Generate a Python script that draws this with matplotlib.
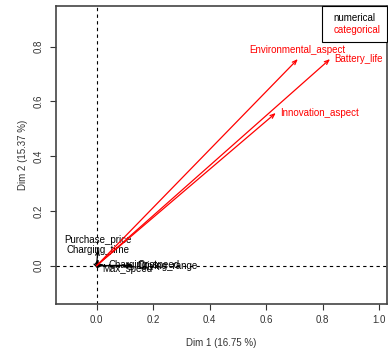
import matplotlib
matplotlib.use("Agg")
import matplotlib.pyplot as plt

# variable coordinates (Dim 1, Dim 2)
variables = ["Purchase_price", "Charging_time", "Max_speed", "Charging_speed",
             "Cost", "Driving_range",
             "Environmental_aspect", "Battery_life", "Innovation_aspect"]
dim1 = [0.005, 0.006, 0.005, 0.026, 0.13, 0.13, 0.712, 0.826, 0.634]
dim2 = [0.06, 0.025, -0.012, 0.004, 0.002, 0.0, 0.755, 0.755, 0.558]
groups = ["numerical"] * 6 + ["categorical"] * 3
# text position around the tip, like R's pos (1 below, 3 above, 4 right)
label_pos = [3, 3, 4, 4, 4, 4, 3, 4, 4]

group_colors = {"numerical": "black", "categorical": "red"}

plt.rcParams["font.family"] = ["Liberation Sans", "DejaVu Sans"]
plt.rcParams["font.size"] = 7

fig = plt.figure(figsize=(3.88, 3.56), dpi=100)
ax = fig.add_axes([0.144, 0.146, 0.853, 0.838])

ax.set_xlim(-0.144, 1.027)
ax.set_ylim(-0.14, 0.95)

ax.axhline(0, color="black", lw=0.8, ls=(0, (3, 3)))
ax.axvline(0, color="black", lw=0.8, ls=(0, (3, 3)))

for name, x, y, g, p in zip(variables, dim1, dim2, groups, label_pos):
    col = group_colors[g]
    ax.annotate("", xy=(x, y), xytext=(0, 0),
                arrowprops=dict(arrowstyle="->,head_length=0.45,head_width=0.18",
                                color=col, lw=0.9, shrinkA=0, shrinkB=0))
    if p == 3:
        ax.annotate(name, (x, y), xytext=(0, 3), textcoords="offset points",
                    ha="center", va="bottom", color=col)
    elif p == 1:
        ax.annotate(name, (x, y), xytext=(0, -3), textcoords="offset points",
                    ha="center", va="top", color=col)
    else:
        ax.annotate(name, (x, y), xytext=(3, 0), textcoords="offset points",
                    ha="left", va="center", color=col)

ax.set_xticks([0.0, 0.2, 0.4, 0.6, 0.8, 1.0])
ax.set_yticks([0.0, 0.2, 0.4, 0.6, 0.8])
ax.tick_params(direction="out", length=4, width=0.8, colors="#333333",
               labelcolor="#333333")
ax.tick_params(axis="x", pad=4)
ax.tick_params(axis="y", pad=5)
for lab in ax.get_yticklabels():
    lab.set_rotation(90)
    lab.set_va("center")
for s in ax.spines.values():
    s.set_linewidth(1.2)
    s.set_color("#444444")

ax.set_xlabel("Dim 1 (16.75 %)", labelpad=9, color="#333333")
ax.set_ylabel("Dim 2 (15.37 %)", labelpad=4, color="#333333")

leg_handles = [plt.Line2D([], [], color="none") for _ in group_colors]
leg = ax.legend(leg_handles, list(group_colors.keys()), loc="upper right",
                handlelength=0, handletextpad=0.4, fancybox=False,
                borderaxespad=0, framealpha=1, edgecolor="black",
                borderpad=0.7, labelspacing=0.3)
leg.get_frame().set_linewidth(0.8)
for t, c in zip(leg.get_texts(), group_colors.values()):
    t.set_color(c)

fig.savefig("out.png", dpi=100)
